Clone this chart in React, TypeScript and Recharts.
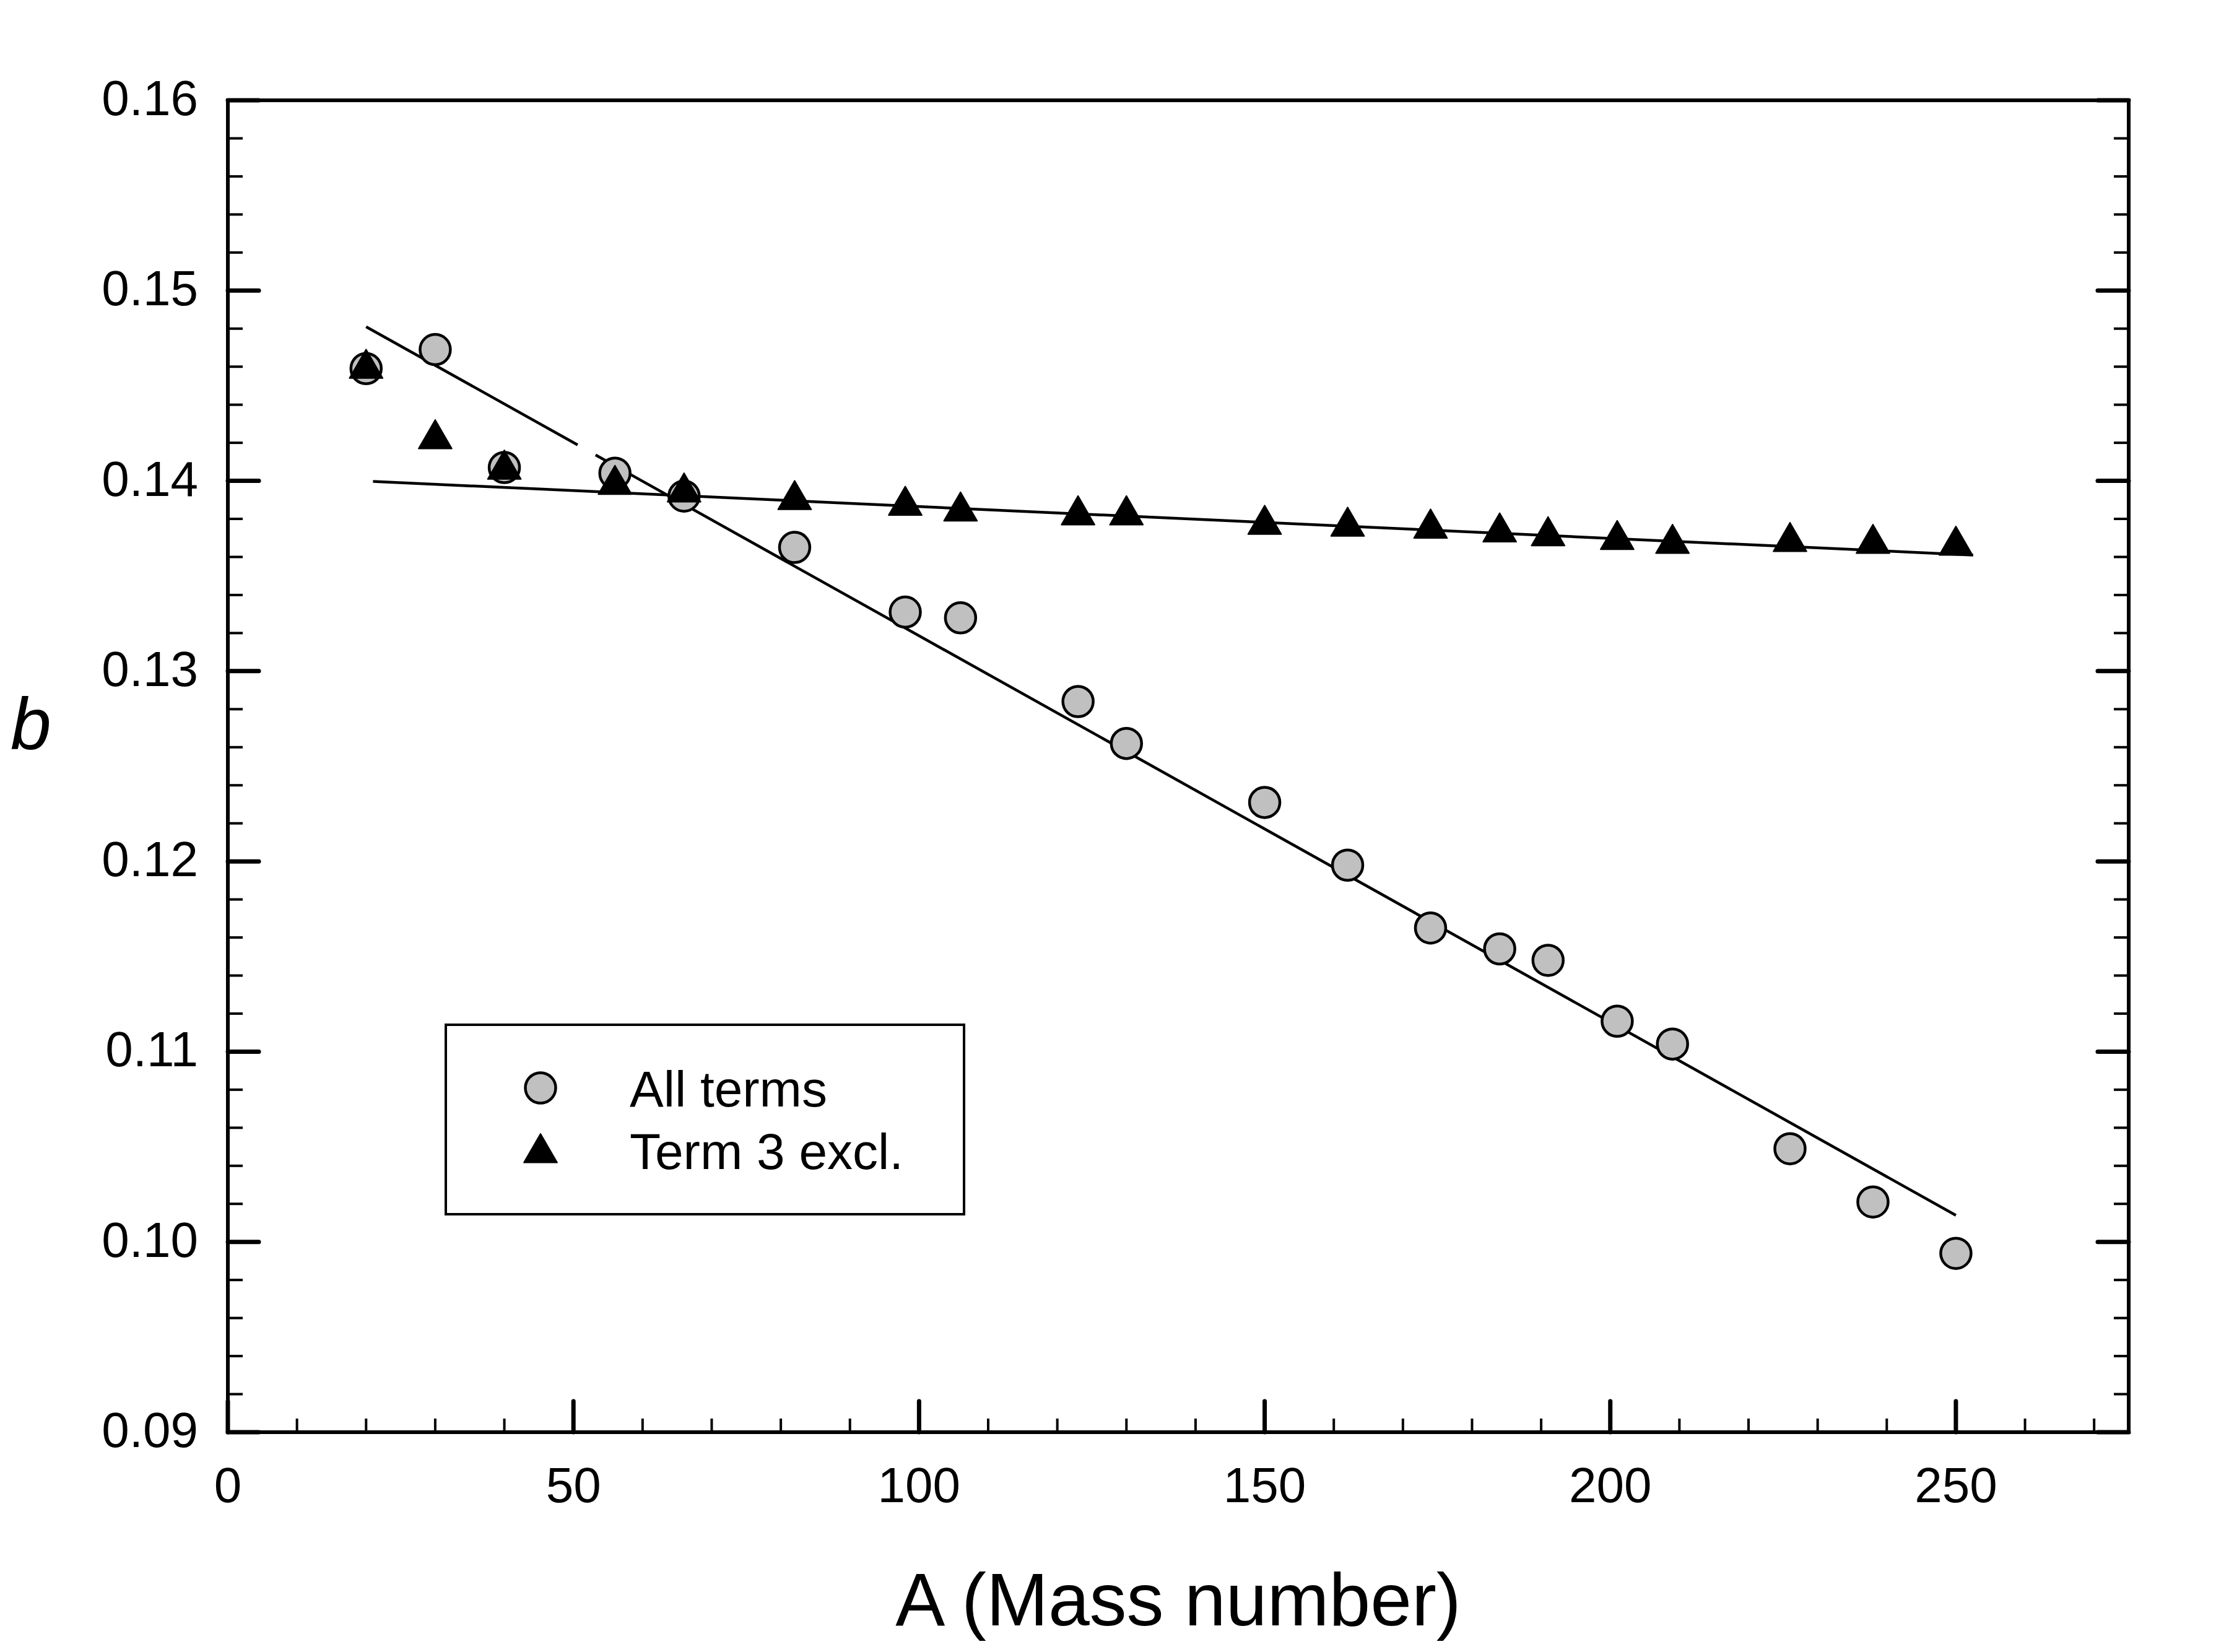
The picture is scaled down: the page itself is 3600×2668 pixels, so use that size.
import React from "react";
import {
  ScatterChart,
  Scatter,
  XAxis,
  YAxis,
  ReferenceLine,
  Legend,
  Symbols,
} from "recharts";

// ---------- data ----------
const massNumbers = [20, 30, 40, 56, 66, 82, 98, 106, 123, 130, 150, 162, 174, 184, 191, 201, 209, 226, 238, 250];
const allTerms = [0.1459, 0.1469, 0.1407, 0.1404, 0.1392, 0.1365, 0.1331, 0.1328, 0.1284, 0.1262, 0.1231, 0.1198, 0.1165, 0.1154, 0.1148, 0.1116, 0.1104, 0.1049, 0.1021, 0.0994];
const term3Excl = [0.1459, 0.1422, 0.1406, 0.1398, 0.1394, 0.1390, 0.1387, 0.1384, 0.1382, 0.1382, 0.1377, 0.1376, 0.1375, 0.1373, 0.1371, 0.1369, 0.1367, 0.1368, 0.1367, 0.1366];

// fitted lines (the "All terms" fit has a small break in it)
const fitAllX = [20, 50.6, 53.2, 250];
const fitAllY = [0.1481, 0.14189, 0.14136, 0.1014];
const fitTerm3X = [21, 252.5];
const fitTerm3Y = [0.13997, 0.1361];

const xTicks = [0, 10, 20, 30, 40, 50, 60, 70, 80, 90, 100, 110, 120, 130, 140, 150, 160, 170, 180, 190, 200, 210, 220, 230, 240, 250, 260, 270];
const xMajorLabels = ["0", "50", "100", "150", "200", "250"];
const yTicks = [
  0.09, 0.092, 0.094, 0.096, 0.098,
  0.1, 0.102, 0.104, 0.106, 0.108,
  0.11, 0.112, 0.114, 0.116, 0.118,
  0.12, 0.122, 0.124, 0.126, 0.128,
  0.13, 0.132, 0.134, 0.136, 0.138,
  0.14, 0.142, 0.144, 0.146, 0.148,
  0.15, 0.152, 0.154, 0.156, 0.158,
  0.16,
];
const yMajorLabels = ["0.09", "0.10", "0.11", "0.12", "0.13", "0.14", "0.15", "0.16"];

const seriesNames = ["All terms", "Term 3 excl."];
const xTitle = "A (Mass number)";
const yTitle = "b";

// ---------- styling ----------
const FONT = "'Liberation Sans', Arial, Helvetica, sans-serif";
const CHART_W = 3584;
const CHART_H = 2652;
const GREY = "#c0c0c0";
const AXIS_W = 6;
const MAJOR_W = 7;
const MINOR_W = 4;

const allData = massNumbers.map((a, i) => ({ a, b: allTerms[i] }));
const term3Data = massNumbers.map((a, i) => ({ a, b: term3Excl[i] }));

const yLabelOf = (v: number) => {
  const s = v.toFixed(2);
  return yMajorLabels.includes(s) && Math.abs(v * 100 - Math.round(v * 100)) < 1e-6 ? s : null;
};
const xLabelOf = (v: number) => {
  const s = String(v);
  return xMajorLabels.includes(s) ? s : null;
};

const LeftTick = (props: any) => {
  const { x, y, payload } = props;
  const label = yLabelOf(payload.value);
  const major = label !== null;
  return (
    <g>
      <line x1={x} y1={y} x2={x + (major ? 50 : 24)} y2={y} stroke="#000" strokeWidth={major ? MAJOR_W : MINOR_W} strokeLinecap={major ? "round" : "butt"} />
      {major && (
        <text x={x - 48} y={y} dy="0.3em" textAnchor="end" fontSize={80} fontFamily={FONT} fill="#000">
          {label}
        </text>
      )}
    </g>
  );
};

const RightTick = (props: any) => {
  const { x, y, payload } = props;
  const major = yLabelOf(payload.value) !== null;
  return (
    <line x1={x} y1={y} x2={x - (major ? 50 : 24)} y2={y} stroke="#000" strokeWidth={major ? MAJOR_W : MINOR_W} strokeLinecap={major ? "round" : "butt"} />
  );
};

const BottomTick = (props: any) => {
  const { x, y, payload } = props;
  const label = xLabelOf(payload.value);
  const major = label !== null;
  return (
    <g>
      <line x1={x} y1={y} x2={x} y2={y - (major ? 50 : 22)} stroke="#000" strokeWidth={major ? MAJOR_W : MINOR_W} strokeLinecap={major ? "round" : "butt"} />
      {major && (
        <text x={x} y={y + 113} textAnchor="middle" fontSize={80} fontFamily={FONT} fill="#000">
          {label}
        </text>
      )}
    </g>
  );
};

const renderXLabel = (props: any) => {
  const vb = props.viewBox;
  return (
    <text x={vb.x + vb.width / 2} y={vb.y + vb.height} textAnchor="middle" fontSize={120} fontFamily={FONT} fill="#000">
      {xTitle}
    </text>
  );
};

const renderYLabel = (props: any) => {
  const vb = props.viewBox;
  return (
    <text x={vb.x + 9} y={vb.y + vb.height / 2 - 28} fontSize={118} fontStyle="italic" fontFamily={FONT} fill="#000">
      {yTitle}
    </text>
  );
};

const CircleShape = (props: any) => (
  <circle cx={props.cx} cy={props.cy} r={24.5} fill={GREY} stroke="#000" strokeWidth={4.5} />
);

const TriangleShape = (props: any) => (
  <Symbols type="triangle" size={1250} cx={props.cx} cy={props.cy} fill="#000" stroke="#000" strokeWidth={2} strokeLinejoin="round" />
);

const renderLegend = (props: any) => {
  const payload = props.payload || [];
  const rowIcon = [104, 209];
  const rowText = [134, 235];
  return (
    <svg width={841} height={310} style={{ display: "block" }}>
      <rect x={2} y={2} width={837} height={306} fill="#fff" stroke="#000" strokeWidth={4} />
      {payload.map((entry: any, i: number) => (
        <g key={i}>
          {entry.type === "triangle" ? (
            <Symbols type="triangle" size={1250} cx={155} cy={rowIcon[i]} fill="#000" stroke="#000" strokeWidth={2} strokeLinejoin="round" />
          ) : (
            <circle cx={155} cy={rowIcon[i]} r={24.5} fill={GREY} stroke="#000" strokeWidth={4.5} />
          )}
          <text x={299} y={rowText[i]} fontSize={82} fontFamily={FONT} fill="#000">
            {entry.value}
          </text>
        </g>
      ))}
    </svg>
  );
};

const seg = (xs: number[], ys: number[], i: number) => [
  { x: xs[i], y: ys[i] },
  { x: xs[i + 1], y: ys[i + 1] },
];

export default function App() {
  return (
    <div style={{ width: CHART_W, height: CHART_H, fontFamily: FONT, background: "#fff" }}>
      <ScatterChart width={CHART_W} height={CHART_H} margin={{ top: 154, right: 144, bottom: 35, left: 0 }}>
        <XAxis
          dataKey="a"
          type="number"
          domain={[0, 275]}
          ticks={xTicks}
          interval={0}
          allowDataOverflow
          tickSize={0}
          tickMargin={0}
          tickLine={false}
          tick={BottomTick}
          axisLine={{ stroke: "#000", strokeWidth: AXIS_W, strokeLinecap: "square" }}
          height={312}
          label={renderXLabel}
        />
        <YAxis
          yAxisId="left"
          dataKey="b"
          type="number"
          domain={[0.09, 0.16]}
          ticks={yTicks}
          interval={0}
          allowDataOverflow
          tickSize={0}
          tickMargin={0}
          tickLine={false}
          tick={LeftTick}
          axisLine={{ stroke: "#000", strokeWidth: AXIS_W, strokeLinecap: "square" }}
          width={360}
          label={renderYLabel}
        />
        <YAxis
          yAxisId="right"
          orientation="right"
          type="number"
          domain={[0.09, 0.16]}
          ticks={yTicks}
          interval={0}
          allowDataOverflow
          tickSize={0}
          tickMargin={0}
          tickLine={false}
          tick={RightTick}
          axisLine={{ stroke: "#000", strokeWidth: AXIS_W, strokeLinecap: "square" }}
          width={10}
        />
        <ReferenceLine yAxisId="right" y={0.16} stroke="#000" strokeWidth={AXIS_W} />
        <Scatter
          name={seriesNames[0]}
          yAxisId="left"
          data={allData}
          legendType="circle"
          fill={GREY}
          shape={CircleShape}
          isAnimationActive={false}
        />
        <Scatter
          name={seriesNames[1]}
          yAxisId="left"
          data={term3Data}
          legendType="triangle"
          fill="#000"
          shape={TriangleShape}
          isAnimationActive={false}
        />
        <ReferenceLine yAxisId="left" segment={seg(fitAllX, fitAllY, 0)} stroke="#000" strokeWidth={4.5} />
        <ReferenceLine yAxisId="left" segment={seg(fitAllX, fitAllY, 2)} stroke="#000" strokeWidth={4.5} />
        <ReferenceLine yAxisId="left" segment={seg(fitTerm3X, fitTerm3Y, 0)} stroke="#000" strokeWidth={4.5} />
        <Legend
          layout="horizontal"
          verticalAlign="middle"
          align="center"
          wrapperStyle={{ left: 710, top: 1645, width: 841, height: 310 }}
          content={renderLegend}
        />
      </ScatterChart>
    </div>
  );
}
